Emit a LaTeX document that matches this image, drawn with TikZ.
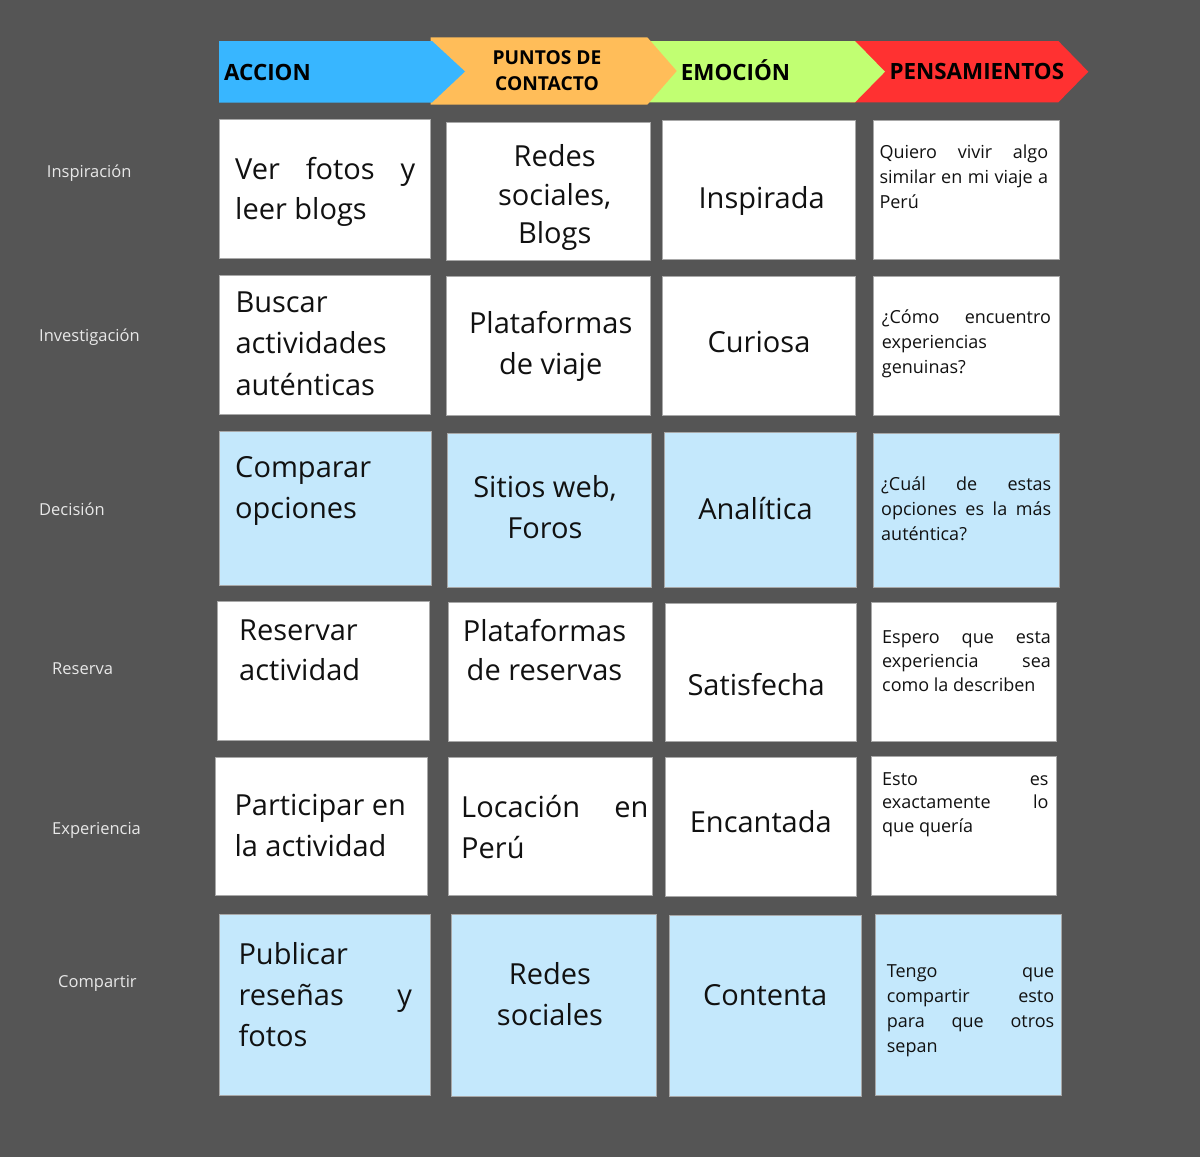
\documentclass[tikz,border=0pt]{standalone}
\usepackage{fontspec}
\setmainfont{Open Sans}
\definecolor{bgcol}{RGB}{85,85,85}
\definecolor{cellline}{RGB}{168,168,168}
\definecolor{lightcell}{RGB}{196,232,252}
\definecolor{ink}{RGB}{17,17,17}
\definecolor{labelcol}{RGB}{232,232,232}
\definecolor{hblue}{RGB}{56,182,255}
\definecolor{horange}{RGB}{255,189,89}
\definecolor{hgreen}{RGB}{193,255,114}
\definecolor{hred}{RGB}{255,49,49}
\tikzset{
  cellbox/.style={draw=cellline, line width=0.8pt, inner sep=0pt, outer sep=0pt, anchor=north west},
  wbox/.style={cellbox, fill=white},
  lbox/.style={cellbox, fill=lightcell},
  bigtext/.style={font=\fontsize{29}{#1}\selectfont, text=ink, inner sep=0pt},
  bigtext/.default=40,
  smalltext/.style={font=\fontsize{18}{#1}\selectfont, text=ink, inner sep=0pt},
  smalltext/.default=25,
  lefttext/.style={align=left, anchor=base west},
  ctext/.style={align=center, anchor=base},
  rowlabel/.style={font=\fontsize{16.5}{20}\selectfont, text=labelcol, inner sep=0pt, anchor=base west},
  headtext/.style={font=\bfseries\fontsize{22.4}{26}\selectfont, text=black, inner sep=0pt, anchor=base west},
  headsmall/.style={font=\bfseries\fontsize{19.2}{25.7}\selectfont, text=black, inner sep=0pt, align=center, anchor=base},
}
\begin{document}
% note: for multi-line nodes the base anchor sits on the LAST line's baseline
\begin{tikzpicture}[x=1pt,y=-1pt]
\useasboundingbox (0,0) rectangle (1200,1157);
\fill[bgcol] (0,0) rectangle (1200,1157);

% header chevrons (drawn back to front)
\fill[hred] (850,41) -- (1058.3,41) -- (1088.3,71.7) -- (1058.3,102.3) -- (850,102.3) -- cycle;
\fill[hgreen] (640,41) -- (855,41) -- (885,71.7) -- (855,102.3) -- (640,102.3) -- cycle;
\fill[horange] (430.7,37.3) -- (647.3,37.3) -- (676.7,71) -- (647.3,104.7) -- (430.7,104.7) -- cycle;
\fill[hblue] (219,41) -- (432,41) -- (465,71.5) -- (432,102.5) -- (219,102.5) -- cycle;

\node[headtext] (hacc) at (224,80) {ACCION};
\node[headsmall] (hpun) at (547,90) {PUNTOS DE\\CONTACTO};
\node[headtext] (hemo) at (680.7,80) {EMOCIÓN};
\node[headtext] (hpen) at (889.3,79.5) {PENSAMIENTOS};

% row labels
\node[rowlabel] (l1) at (46.7,177.3) {Inspiración};
\node[rowlabel] (l2) at (39,341) {Investigación};
\node[rowlabel] (l3) at (39,515) {Decisión};
\node[rowlabel] (l4) at (52,674) {Reserva};
\node[rowlabel] (l5) at (52,834) {Experiencia};
\node[rowlabel] (l6) at (58,987) {Compartir};

% ---- row 1
\node[wbox, minimum width=211.4pt, minimum height=138.7pt] (b11) at (219.3,119.3) {};
\node[wbox, minimum width=204pt, minimum height=138.7pt] (b12) at (446,122) {};
\node[wbox, minimum width=192.3pt, minimum height=138.6pt] (b13) at (662.7,120.7) {};
\node[wbox, minimum width=185.7pt, minimum height=138.6pt] (b14) at (873.3,120.7) {};
\node[bigtext=40, lefttext] (t11) at (235,219.3) {\hbox to 180pt{Ver\hfill fotos\hfill y}\\leer blogs};
\node[bigtext=38.3, ctext] (t12) at (554.7,243.3) {Redes\\sociales,\\Blogs};
\node[bigtext, ctext] (t13) at (761.7,208.3) {Inspirada};
\node[smalltext=25, lefttext] (t14) at (879.3,208) {\hbox to 168.7pt{Quiero\hfill vivir\hfill algo}\\\hbox to 168.7pt{similar\hfill en\hfill mi\hfill viaje\hfill a}\\Perú};

% ---- row 2
\node[wbox, minimum width=211.4pt, minimum height=139pt] (b21) at (219.3,275) {};
\node[wbox, minimum width=204pt, minimum height=138.6pt] (b22) at (446,276.7) {};
\node[wbox, minimum width=192.3pt, minimum height=138.6pt] (b23) at (662.7,276.7) {};
\node[wbox, minimum width=185.7pt, minimum height=138.6pt] (b24) at (873.3,276.7) {};
\node[bigtext=41.2, lefttext] (t21) at (235.3,395.1) {Buscar\\actividades\\auténticas};
\node[bigtext=40.7, ctext] (t22) at (550.7,374) {Plataformas\\de viaje};
\node[bigtext, ctext] (t23) at (759,352.7) {Curiosa};
\node[smalltext=25, lefttext] (t24) at (881.7,373.3) {\hbox to 169pt{¿Cómo\hfill encuentro}\\experiencias\\genuinas?};

% ---- row 3
\node[lbox, minimum width=212pt, minimum height=154pt] (b31) at (219,431) {};
\node[lbox, minimum width=204pt, minimum height=154pt] (b32) at (447,433) {};
\node[lbox, minimum width=192pt, minimum height=155pt] (b33) at (664,432.7) {};
\node[lbox, minimum width=186pt, minimum height=154pt] (b34) at (873,433) {};
\node[bigtext=41.5, lefttext] (t31) at (235,518.5) {Comparar\\opciones};
\node[bigtext=41, ctext] (t32) at (545,538) {Sitios web,\\Foros};
\node[bigtext, ctext] (t33) at (755.5,519.3) {Analítica};
\node[smalltext=25.3, lefttext] (t34) at (881,540.6) {\hbox to 170pt{¿Cuál\hfill de\hfill estas}\\\hbox to 170pt{opciones\hfill es\hfill la\hfill más}\\auténtica?};

% ---- row 4
\node[wbox, minimum width=211.7pt, minimum height=139pt] (b41) at (217.3,601) {};
\node[wbox, minimum width=204.3pt, minimum height=139pt] (b42) at (448,602.3) {};
\node[wbox, minimum width=191.7pt, minimum height=138.4pt] (b43) at (665,603.3) {};
\node[wbox, minimum width=185.7pt, minimum height=138.3pt] (b44) at (871,602.7) {};
\node[bigtext=39.5, lefttext] (t41) at (239,680.2) {Reservar\\actividad};
\node[bigtext=39.7, ctext] (t42) at (544.5,680.7) {Plataformas\\de reservas};
\node[bigtext, ctext] (t43) at (756.2,695) {Satisfecha};
\node[smalltext=24.2, lefttext] (t44) at (882,691.7) {\hbox to 168.7pt{Espero\hfill que\hfill esta}\\\hbox to 168.7pt{experiencia\hfill sea}\\como la describen};

% ---- row 5
\node[wbox, minimum width=211.7pt, minimum height=138pt] (b51) at (215.3,757.3) {};
\node[wbox, minimum width=204.3pt, minimum height=138pt] (b52) at (448,757.3) {};
\node[wbox, minimum width=191.7pt, minimum height=139pt] (b53) at (665,757.7) {};
\node[wbox, minimum width=185.7pt, minimum height=138.6pt] (b54) at (871,756.7) {};
\node[bigtext=41, lefttext] (t51) at (234.3,856) {Participar en\\la actividad};
\node[bigtext=40.6, lefttext] (t52) at (461,858.3) {\hbox to 187.3pt{Locación\hfill en}\\Perú};
\node[bigtext, ctext] (t53) at (760.8,832.7) {Encantada};
\node[smalltext=23.8, lefttext] (t54) at (882,832.6) {\hbox to 166.3pt{Esto\hfill es}\\\hbox to 166.3pt{exactamente\hfill lo}\\que quería};

% ---- row 6
\node[lbox, minimum width=211.4pt, minimum height=181.7pt] (b61) at (219.3,914) {};
\node[lbox, minimum width=204.3pt, minimum height=181.3pt] (b62) at (451.7,914.7) {};
\node[lbox, minimum width=192pt, minimum height=181.7pt] (b63) at (669,915) {};
\node[lbox, minimum width=186pt, minimum height=181.4pt] (b64) at (875,914.3) {};
\node[bigtext=40.9, lefttext] (t61) at (238.3,1046.1) {Publicar\\\hbox to 173.4pt{reseñas\hfill y}\\fotos};
\node[bigtext=41, ctext] (t62) at (550,1025) {Redes\\sociales};
\node[bigtext, ctext] (t63) at (765.2,1005) {Contenta};
\node[smalltext=25, lefttext] (t64) at (886.7,1052.3) {\hbox to 167.3pt{Tengo\hfill que}\\\hbox to 167.3pt{compartir\hfill esto}\\\hbox to 167.3pt{para\hfill que\hfill otros}\\sepan};
\end{tikzpicture}
\end{document}
